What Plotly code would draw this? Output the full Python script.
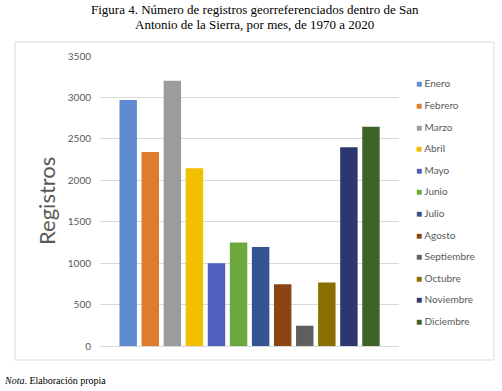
import plotly.graph_objects as go

months = ["Enero", "Febrero", "Marzo", "Abril", "Mayo", "Junio", "Julio",
          "Agosto", "Septiembre", "Octubre", "Noviembre", "Diciembre"]
registros = [2970, 2340, 3200, 2145, 1000, 1250, 1195, 745, 245, 765, 2400, 2645]
colors = ["#5F8AD0", "#E07B2C", "#9C9C9C", "#F2BE00", "#4E5FBE", "#6CA83E",
          "#325490", "#8B4513", "#5F5F5F", "#8A6E00", "#2B376E", "#3D6328"]
y_ticks = [0, 500, 1000, 1500, 2000, 2500, 3000, 3500]

title_lines = ["Figura 4. Número de registros georreferenciados dentro de San",
               "Antonio de la Sierra, por mes, de 1970 a 2020"]
y_title = "Registros"
note = "<i>Nota</i>. Elaboración propia"

W, H = 502, 391
L, R, T, B = 100, 103, 56, 45
pw, ph = W - L - R, H - T - B


def px_x(x):
    return (x - L) / pw


def px_y(y):
    return (H - B - y) / ph


fig = go.Figure()
for m, v, c in zip(months, registros, colors):
    fig.add_trace(go.Bar(x=[m], y=[v], marker=dict(color=c, line=dict(width=0)),
                         width=0.79, showlegend=False, name=m))
for m, c in zip(months, colors):
    fig.add_trace(go.Scatter(x=[None], y=[None], mode="markers",
                             marker=dict(size=1, color="rgba(0,0,0,0)"),
                             name=f"<span style='color:{c}'>■</span> {m}",
                             legendgroup=m, showlegend=True))

fig.update_layout(
    width=W, height=H,
    margin=dict(l=L, r=R, t=T, b=B),
    paper_bgcolor="white", plot_bgcolor="white",
    barmode="overlay",
    font=dict(family="Lato", size=10, color="#595959"),
    legend=dict(x=px_x(376), xanchor="left", y=px_y(69), yanchor="top",
                tracegroupgap=2.6, font=dict(size=10, color="#595959"),
                bgcolor="rgba(0,0,0,0)", itemwidth=30),
    xaxis=dict(type="category", categoryorder="array", categoryarray=months,
               range=[-1.278, 12.27], showticklabels=False, showgrid=False,
               zeroline=False, showline=False, ticks=""),
    yaxis=dict(range=[0, 3500], tickvals=y_ticks, showgrid=True,
               gridcolor="#D9D9D9", gridwidth=1, zeroline=True,
               zerolinecolor="#D9D9D9", zerolinewidth=1, ticks="",
               ticklabelstandoff=8, tickfont=dict(size=10, color="#595959")),
    shapes=[dict(type="rect", xref="paper", yref="paper",
                 x0=px_x(15), x1=px_x(494), y0=px_y(360), y1=px_y(42),
                 line=dict(color="#D9D9D9", width=1), layer="below")],
    annotations=[
        dict(text=title_lines[0], xref="paper", yref="paper", x=px_x(254.5),
             y=px_y(10), xanchor="center", yanchor="middle", showarrow=False,
             font=dict(family="Liberation Serif", size=13, color="black")),
        dict(text=title_lines[1], xref="paper", yref="paper", x=px_x(254.5),
             y=px_y(25), xanchor="center", yanchor="middle", showarrow=False,
             font=dict(family="Liberation Serif", size=13, color="black")),
        dict(text=y_title, xref="paper", yref="paper", x=px_x(46), y=0.5,
             textangle=-90, xanchor="center", yanchor="middle", showarrow=False,
             font=dict(family="Lato", size=22, color="#595959")),
        dict(text=note, xref="paper", yref="paper", x=px_x(2), y=px_y(380),
             xanchor="left", yanchor="middle", showarrow=False,
             font=dict(family="Liberation Serif", size=10, color="black")),
    ],
)

fig.write_html("out.html", config={"displayModeBar": False},
               post_script="document.body.style.margin='0';document.body.style.overflow='hidden';")
